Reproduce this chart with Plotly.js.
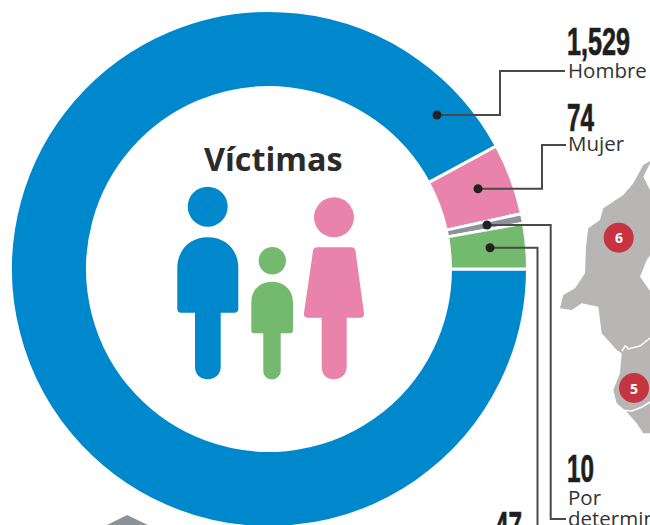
<!DOCTYPE html>
<html><head><meta charset="utf-8">
<script src="https://cdn.plot.ly/plotly-3.0.1.min.js"></script>
<style>html,body{margin:0;padding:0;background:#fff;overflow:hidden;width:650px;height:525px}#c{width:650px;height:525px;overflow:hidden}</style>
</head><body><div id="c"></div>
<script>
const categories = ['Hombre','Mujer','Por determinar','Sin dato'];
const victimas = [1529,74,10,47];
const colores = ['#0088cc','#e983ab','#8b9298','#74ba6e'];
const W=650,H=560;
const path=s=>s.replace(/(-?[\d.]+)[ ,](-?[\d.]+)/g,(m,a,b)=>(a/W).toFixed(5)+','+(1-b/H).toFixed(5));
const fill=(s,c)=>({type:'path',xref:'paper',yref:'paper',path:path(s),fillcolor:c,line:{width:0},layer:'above'});
const circ=(x,y,r,c)=>({type:'circle',xref:'paper',yref:'paper',x0:(x-r)/W,x1:(x+r)/W,y0:1-(y+r)/H,y1:1-(y-r)/H,fillcolor:c,line:{width:0},layer:'above'});
const lead=s=>({type:'path',xref:'paper',yref:'paper',path:path(s),line:{color:'#4a4a4a',width:2},layer:'above'});
const z=(a)=>a.map(([x,y],i)=>(i?'L':'M')+(460+x/3).toFixed(1)+' '+(140+y/3).toFixed(1)).join(' ')+' Z';
const mapa=[[575,60],[550,75],[520,130],[490,165],[430,205],[420,240],[385,265],[378,320],[375,400],[345,445],[310,465],[300,505],[335,510],[365,490],[415,500],[425,580],[470,630],[485,640],[480,700],[460,750],[470,790],[500,815],[530,850],[550,880],[575,880],[575,460],[540,410],[560,360],[575,340],[575,160],[550,110]];
const shapes=[
 fill(z(mapa),'#b8b5b5'),
 {type:'path',xref:'paper',yref:'paper',path:path('M622 351 L625 346 L627 347 L628 349 L640 346 L650 338'),line:{color:'#fff',width:1.5},layer:'above'},
 {type:'path',xref:'paper',yref:'paper',path:path('M620 410 L632 411 L642 407 L650 402'),line:{color:'#fff',width:1.5},layer:'above'},
 fill('M105 526 L127 515 L150 526 Z','#8b9298'),
 circ(618.7,237.7,15,'#c5343f'),circ(634,388,15,'#c5343f'),
 circ(207.7,206.7,20,'#0088cc'),
 fill('M177.3 309 L177.3 268 C177.3 250 190 237.3 207.8 237.3 C226 237.3 238.3 250 238.3 268 L238.3 309 Q238.3 312.7 234 312.7 L220.7 312.7 L220.7 367 C220.7 375 214 379.3 207.8 379.3 C201 379.3 195 375 195 367 L195 312.7 L181 312.7 Q177.3 312.7 177.3 309 Z','#0088cc'),
 circ(272.3,260.7,13.7,'#74ba6e'),
 fill('M251.3 330 L251.3 302 C251.3 290 260 281.7 272 281.7 C284 281.7 293 290 293 302 L293 330 Q293 333.3 290 333.3 L280.7 333.3 L280.7 371 C280.7 376 276 379.3 272 379.3 C267 379.3 263.3 376 263.3 371 L263.3 333.3 L254 333.3 Q251.3 333.3 251.3 330 Z','#74ba6e'),
 circ(334,217.3,20,'#e983ab'),
 fill('M317 247.3 L351 247.3 Q355 247.3 355.5 251 L364 313 Q364.5 317.7 360 317.7 L346.7 317.7 L346.7 367 C346.7 375 340 379.3 334 379.3 C327 379.3 321.7 375 321.7 367 L321.7 317.7 L308 317.7 Q303.5 317.7 304 313 L313 251 Q313.5 247.3 317 247.3 Z','#e983ab'),
 lead('M437 115 L500 115 L500 71 L565 71'),
 lead('M478 188.7 L542 188.7 L542 145 L566 145'),
 lead('M487 225 L550.7 225 L550.7 519 L566 519'),
 lead('M490 247.7 L537.5 247.7 L537.5 530'),
 circ(437,115,4.5,'#222'),circ(478,188.7,4.5,'#222'),circ(487,225,4.5,'#222'),circ(490,247.7,4.5,'#222')
];
const big='"Liberation Sans",sans-serif', txt='"Open Sans",sans-serif';
const ann=(x,y,text,size,family,color,anchor,weight)=>({xref:'paper',yref:'paper',x:x/W,y:1-y/H,text,showarrow:false,xanchor:anchor||'left',yanchor:'middle',borderpad:0,align:'left',font:{size,family,color:color||'#333',weight:weight||400}});
const annotations=[
 ann(273,158,'Víctimas',32.3,txt,'#2b2b2b','center',700),
 ann(566,42,victimas[0].toLocaleString('en-US'),39,big,'#1e1e1e','left',700),
 ann(567,70,categories[0],20.5,txt),
 ann(566,117,String(victimas[1]),39,big,'#1e1e1e','left',700),
 ann(567,143,categories[1],20.5,txt),
 ann(566,468,String(victimas[2]),39,big,'#1e1e1e','left',700),
 ann(567,497,'Por',20.5,txt),
 ann(567,518,'determinar',20.5,txt),
 ann(494,525,String(victimas[3]),39,big,'#1e1e1e','left',700),
 ann(618.7,237.7,'6',14,txt,'#fff','center',700),
 ann(634,388,'5',14,txt,'#fff','center',700)
];
Plotly.newPlot('c',[{type:'pie',labels:categories,values:victimas,hole:0.702,sort:false,direction:'clockwise',rotation:90,
 marker:{colors:colores,line:{color:'#fff',width:3}},textinfo:'none',hoverinfo:'label+value',
 domain:{x:[10.5/W,527.5/W],y:[1-527.5/H,1-10.5/H]}}],
 {width:W,height:H,margin:{l:0,r:0,t:0,b:0},showlegend:false,paper_bgcolor:'#fff',shapes,annotations},{displayModeBar:false}).then(()=>{
  const widths={'1,529':63,'74':27,'10':27,'47':27};
  document.querySelectorAll('.annotation-text').forEach(t=>{
    const w=widths[t.textContent];
    if(w){t.setAttribute('textLength',w);t.setAttribute('lengthAdjust','spacingAndGlyphs');t.style.stroke='#1e1e1e';t.style.strokeWidth='0.7px';}
  });
 });
</script></body></html>
